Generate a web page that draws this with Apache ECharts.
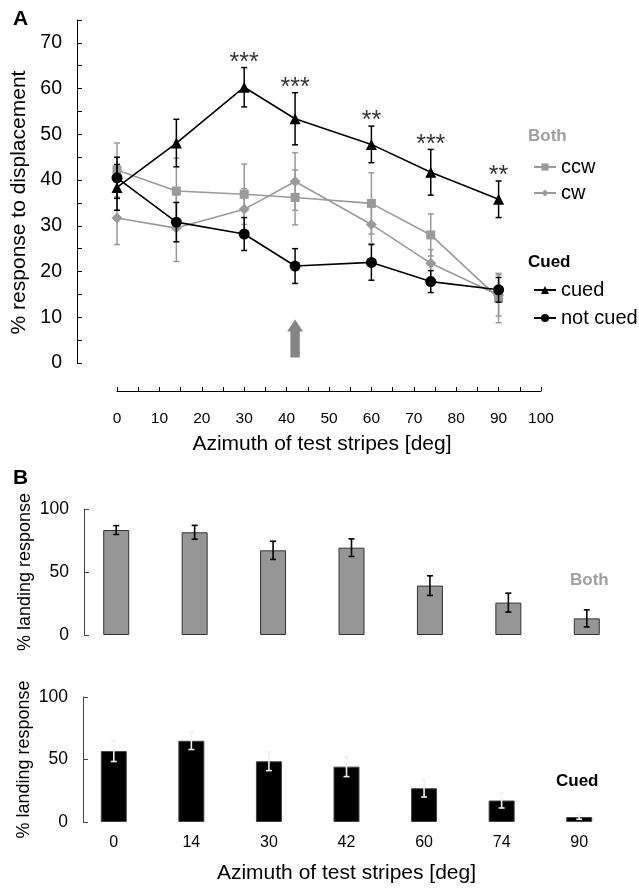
<!DOCTYPE html>
<html><head><meta charset="utf-8">
<script src="https://cdn.jsdelivr.net/npm/echarts@6/dist/echarts.min.js"></script>
<style>html,body{margin:0;padding:0;background:#fff}#c{width:639px;height:888px}</style>
</head><body><div id="c"></div>
<script>
// ---- Panel A data ----
const azimuthA = [0, 14, 30, 42, 60, 74, 90];
const cuedMean = [38.4, 48.1, 60.3, 53.4, 47.8, 41.7, 35.8];
const cuedErr = [5.0, 5.2, 4.3, 5.7, 4.0, 5.0, 4.0];
const notCuedMean = [40.5, 30.8, 28.2, 21.2, 22.0, 17.8, 16.0];
const notCuedErr = [4.5, 4.3, 3.6, 3.8, 3.9, 2.4, 2.7];
const ccwMean = [42.2, 37.6, 36.9, 36.2, 34.9, 28.0, 14.2];
const ccwErr = [5.9, 7.2, 6.6, 6.0, 6.7, 4.6, 5.4];
const cwMean = [31.7, 29.5, 33.6, 39.7, 30.3, 21.8, 14.8];
const cwErr = [5.8, 7.3, 4.5, 6.3, 4.2, 3.0, 4.5];
const sigLabels = ['', '', '***', '***', '**', '***', '**'];
const arrowX = 42, arrowFrom = 1.2, arrowTo = 9.5;
const yTicksA = [0, 10, 20, 30, 40, 50, 60, 70];
const xTicksA = [0, 10, 20, 30, 40, 50, 60, 70, 80, 90, 100];

// ---- Panel B data ----
const azimuthB = ['0', '14', '30', '42', '60', '74', '90'];
const bothLanding = [83.3, 81.5, 67.2, 69.3, 39.2, 25.7, 13.2];
const bothLandingErr = [3.5, 5.5, 7.2, 7.0, 7.8, 7.5, 6.8];
const cuedLanding = [56.8, 65.0, 48.6, 44.3, 27.0, 17.2, 4.0];
const cuedLandingErr = [8.4, 7.0, 7.5, 8.0, 7.0, 6.0, 1.8];

const FONT = '"Liberation Sans", Arial, sans-serif';
const GRAY = '#9a9a9a';

function errRender(color, cap, width) {
  return function (params, api) {
    const x = api.value(0), lo = api.value(1), hi = api.value(2);
    const p1 = api.coord([x, hi]), p2 = api.coord([x, lo]);
    const h = cap / 2;
    const st = { stroke: color, lineWidth: width };
    return { type: 'group', children: [
      { type: 'line', shape: { x1: p1[0], y1: p1[1], x2: p2[0], y2: p2[1] }, style: st },
      { type: 'line', shape: { x1: p1[0] - h, y1: p1[1], x2: p1[0] + h, y2: p1[1] }, style: st },
      { type: 'line', shape: { x1: p2[0] - h, y1: p2[1], x2: p2[0] + h, y2: p2[1] }, style: st }
    ] };
  };
}
function errData(xs, m, e) { return xs.map((x, i) => [x, m[i] - e[i], m[i] + e[i]]); }
function errDataCat(m, e) { return m.map((v, i) => [i, v - e[i], v + e[i]]); }
function pairs(xs, ys) { return xs.map((x, i) => [x, ys[i]]); }

const chart = echarts.init(document.getElementById('c'), null, { renderer: 'canvas' });
const option = {
  backgroundColor: '#fff',
  animation: false,
  textStyle: { fontFamily: FONT },
  grid: [
    { left: 117, right: 98, top: 20, bottom: 525 },
    { left: 77, right: 13, top: 509, bottom: 253 },
    { left: 75, right: 21, top: 697, bottom: 66 }
  ],
  xAxis: [
    { gridIndex: 0, type: 'value', min: 0, max: 100, interval: 5, offset: 28,
      name: 'Azimuth of test stripes [deg]', nameLocation: 'middle', nameGap: 43,
      nameTextStyle: { fontSize: 21, color: '#000', fontFamily: FONT, padding: [0, 14, 0, 0] },
      axisLine: { onZero: false, lineStyle: { color: '#000', width: 1 } },
      axisTick: { inside: true, length: 4, lineStyle: { color: '#000' } },
      axisLabel: { fontSize: 15.5, color: '#000', margin: 20, fontFamily: FONT,
        formatter: v => xTicksA.indexOf(v) >= 0 ? String(v) : '' },
      splitLine: { show: false } },
    { gridIndex: 1, type: 'category', data: azimuthB,
      axisLine: { show: false }, axisTick: { show: false }, axisLabel: { show: false } },
    { gridIndex: 2, type: 'category', data: azimuthB,
      name: 'Azimuth of test stripes [deg]', nameLocation: 'middle', nameGap: 41,
      nameTextStyle: { fontSize: 21, color: '#000', fontFamily: FONT },
      axisLine: { show: false }, axisTick: { show: false },
      axisLabel: { fontSize: 16, color: '#000', margin: 13, fontFamily: FONT } }
  ],
  yAxis: [
    { gridIndex: 0, type: 'value', min: 0, max: 75, interval: 5, offset: 40,
      name: '% response to displacement', nameLocation: 'middle', nameGap: 45, nameRotate: 90,
      nameTextStyle: { fontSize: 21, color: '#000', fontFamily: FONT, padding: [0, 22, 0, 0] },
      axisLine: { show: true, onZero: false, lineStyle: { color: '#000', width: 1 } },
      axisTick: { show: true, inside: true, length: 5, lineStyle: { color: '#000' } },
      axisLabel: { fontSize: 19.5, color: '#000', margin: 15, fontFamily: FONT,
        formatter: v => yTicksA.indexOf(v) >= 0 ? String(v) : '' },
      splitLine: { show: false } },
    { gridIndex: 1, type: 'value', min: 0, max: 100, interval: 50, offset: -7,
      name: '% landing response', nameLocation: 'middle', nameGap: 50, nameRotate: 90,
      nameMoveOverlap: false,
      nameTextStyle: { fontSize: 18, color: '#000', fontFamily: FONT },
      axisLine: { show: true, onZero: false, lineStyle: { color: '#444', width: 1 } },
      axisTick: { show: true, inside: true, length: 5, lineStyle: { color: '#444' } },
      axisLabel: { fontSize: 17.5, color: '#000', margin: 15, fontFamily: FONT },
      splitLine: { show: false } },
    { gridIndex: 2, type: 'value', min: 0, max: 100, interval: 50, offset: -8,
      name: '% landing response', nameLocation: 'middle', nameGap: 50, nameRotate: 90,
      nameMoveOverlap: false,
      nameTextStyle: { fontSize: 18, color: '#000', fontFamily: FONT },
      axisLine: { show: true, onZero: false, lineStyle: { color: '#444', width: 1 } },
      axisTick: { show: true, inside: true, length: 5, lineStyle: { color: '#444' } },
      axisLabel: { fontSize: 17.5, color: '#000', margin: 15, fontFamily: FONT },
      splitLine: { show: false } }
  ],
  legend: [
    { data: ['ccw', 'cw'], orient: 'vertical', left: 528, top: 151, itemWidth: 22, itemHeight: 9,
      itemGap: 4, textStyle: { fontSize: 20, color: '#000', fontFamily: FONT, lineHeight: 22 } },
    { data: ['cued', 'not cued'], orient: 'vertical', left: 528, top: 274, itemWidth: 22, itemHeight: 10,
      itemGap: 6, textStyle: { fontSize: 20, color: '#000', fontFamily: FONT, lineHeight: 22 } }
  ],
  graphic: [
    { type: 'text', left: 13, top: 9, style: { text: 'A', font: 'bold 21px ' + FONT, fill: '#000' } },
    { type: 'text', left: 13, top: 468, style: { text: 'B', font: 'bold 21px ' + FONT, fill: '#000' } },
    { type: 'text', left: 528, top: 128, style: { text: 'Both', font: 'bold 17px ' + FONT, fill: '#a0a0a0' } },
    { type: 'text', left: 528, top: 254, style: { text: 'Cued', font: 'bold 17px ' + FONT, fill: '#000' } },
    { type: 'text', left: 570, top: 572, style: { text: 'Both', font: 'bold 17px ' + FONT, fill: '#a0a0a0' } },
    { type: 'text', left: 556, top: 773, style: { text: 'Cued', font: 'bold 17px ' + FONT, fill: '#000' } }
  ],
  series: [
    // arrow
    { type: 'custom', xAxisIndex: 0, yAxisIndex: 0, silent: true, z: 1,
      encode: { x: 0, y: [1, 2] },
      data: [[arrowX, arrowFrom, arrowTo]],
      renderItem: function (params, api) {
        const top = api.coord([api.value(0), api.value(2)]);
        const bot = api.coord([api.value(0), api.value(1)]);
        const x = top[0], sw = 4.7, hw = 8, hh = 12;
        return { type: 'polygon', shape: { points: [
          [x, top[1]], [x + hw, top[1] + hh], [x + sw, top[1] + hh], [x + sw, bot[1]],
          [x - sw, bot[1]], [x - sw, top[1] + hh], [x - hw, top[1] + hh]] },
          style: { fill: '#858585' } };
      } },
    // gray error bars
    { type: 'custom', name: 'ccwErr', xAxisIndex: 0, yAxisIndex: 0, z: 2, silent: true,
      encode: { x: 0, y: [1, 2] }, data: errData(azimuthA, ccwMean, ccwErr), renderItem: errRender(GRAY, 6, 1.5) },
    { type: 'custom', name: 'cwErr', xAxisIndex: 0, yAxisIndex: 0, z: 2, silent: true,
      encode: { x: 0, y: [1, 2] }, data: errData(azimuthA, cwMean, cwErr), renderItem: errRender(GRAY, 6, 1.5) },
    { type: 'line', name: 'ccw', xAxisIndex: 0, yAxisIndex: 0, z: 3, data: pairs(azimuthA, ccwMean),
      symbol: 'rect', symbolSize: 9, color: GRAY, lineStyle: { color: GRAY, width: 1.6 },
      itemStyle: { color: GRAY } },
    { type: 'line', name: 'cw', xAxisIndex: 0, yAxisIndex: 0, z: 3, data: pairs(azimuthA, cwMean),
      symbol: 'diamond', symbolSize: 11, color: GRAY, lineStyle: { color: GRAY, width: 1.6 },
      itemStyle: { color: GRAY } },
    // black error bars
    { type: 'custom', name: 'cuedErr', xAxisIndex: 0, yAxisIndex: 0, z: 4, silent: true,
      encode: { x: 0, y: [1, 2] }, data: errData(azimuthA, cuedMean, cuedErr), renderItem: errRender('#000', 6, 1.5) },
    { type: 'custom', name: 'notCuedErr', xAxisIndex: 0, yAxisIndex: 0, z: 4, silent: true,
      encode: { x: 0, y: [1, 2] }, data: errData(azimuthA, notCuedMean, notCuedErr), renderItem: errRender('#000', 6, 1.5) },
    { type: 'line', name: 'cued', xAxisIndex: 0, yAxisIndex: 0, z: 5, data: pairs(azimuthA, cuedMean),
      symbol: 'triangle', symbolSize: 11, color: '#000', lineStyle: { color: '#000', width: 1.6 },
      itemStyle: { color: '#000' } },
    { type: 'line', name: 'not cued', xAxisIndex: 0, yAxisIndex: 0, z: 5, data: pairs(azimuthA, notCuedMean),
      symbol: 'circle', symbolSize: 11, color: '#000', lineStyle: { color: '#000', width: 1.6 },
      itemStyle: { color: '#000' } },
    // significance stars
    { type: 'scatter', name: 'sig', xAxisIndex: 0, yAxisIndex: 0, z: 6, silent: true,
      data: azimuthA.map((x, i) => [x, cuedMean[i] + cuedErr[i]]), symbolSize: 0,
      label: { show: true, position: 'top', distance: -8, fontSize: 25, color: '#000', fontFamily: FONT,
        formatter: p => sigLabels[p.dataIndex] } },
    // panel B top
    { type: 'bar', name: 'Both', xAxisIndex: 1, yAxisIndex: 1, data: bothLanding, barWidth: 26,
      itemStyle: { color: '#969696', borderColor: '#333', borderWidth: 1 } },
    { type: 'custom', name: 'bothErr', xAxisIndex: 1, yAxisIndex: 1, z: 4, silent: true,
      encode: { x: 0, y: [1, 2] }, data: errDataCat(bothLanding, bothLandingErr), renderItem: errRender('#000', 6, 1.6) },
    // panel B bottom
    { type: 'bar', name: 'Cued', xAxisIndex: 2, yAxisIndex: 2, data: cuedLanding, barWidth: 26,
      itemStyle: { color: '#000', borderColor: '#444', borderWidth: 1 } },
    { type: 'custom', name: 'cuedLandErr', xAxisIndex: 2, yAxisIndex: 2, z: 4, silent: true,
      encode: { x: 0, y: [1, 2] }, data: errDataCat(cuedLanding, cuedLandingErr), renderItem: errRender('#f2f2f2', 6, 1.6) }
  ]
};
chart.setOption(option);
</script>
</body></html>
